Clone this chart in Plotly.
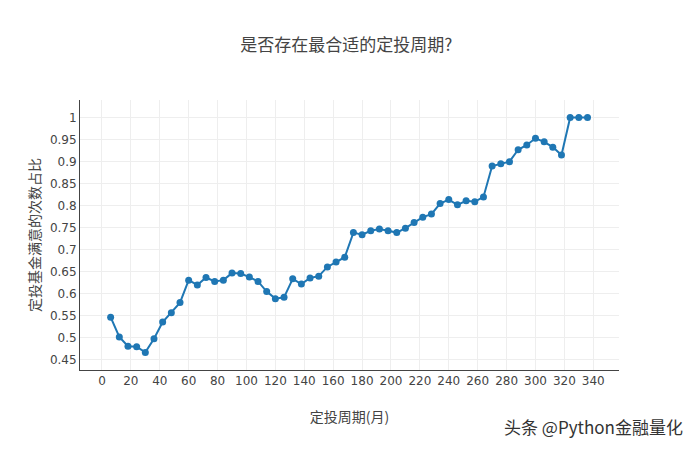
import plotly.graph_objects as go

periods = list(range(6, 337, 6))
ratios = [
    0.547, 0.502, 0.481, 0.480, 0.467, 0.498, 0.536, 0.557, 0.580, 0.631,
    0.620, 0.637, 0.628, 0.631, 0.647, 0.646, 0.638, 0.628, 0.605, 0.589,
    0.592, 0.634, 0.622, 0.636, 0.640, 0.661, 0.672, 0.683, 0.739, 0.734,
    0.743, 0.747, 0.743, 0.739, 0.749, 0.762, 0.774, 0.781, 0.805, 0.814,
    0.802, 0.811, 0.809, 0.820, 0.890, 0.895, 0.900, 0.927, 0.938, 0.953,
    0.945, 0.933, 0.915, 1.0, 1.0, 1.0,
]
x_ticks = list(range(0, 341, 20))
y_ticks = [0.45, 0.5, 0.55, 0.6, 0.65, 0.7, 0.75, 0.8, 0.85, 0.9, 0.95, 1]

title_text = "是否存在最合适的定投周期?"
x_title = "定投周期(月)"
y_title = "定投基金满意的次数占比"
watermark = "头条 @Python金融量化"

font_family = "DejaVu Sans, Noto Sans CJK SC, sans-serif"
cjk = "Noto Sans CJK SC, sans-serif"

fig = go.Figure()
fig.add_trace(go.Scatter(
    x=periods, y=ratios, mode="lines+markers",
    line=dict(color="#1f77b4", width=2),
    marker=dict(color="#1f77b4", size=7),
    showlegend=False,
))

fig.update_layout(
    width=692, height=442,
    margin=dict(l=72, r=81, t=92, b=80),
    paper_bgcolor="white", plot_bgcolor="white",
    font=dict(family=font_family, size=12, color="#444"),
    title=dict(text=title_text, x=0.489, xanchor="center", y=0.916, yanchor="middle",
               font=dict(size=17, color="#444", family=cjk)),
    xaxis=dict(
        range=[-15.2, 357.8], tickvals=x_ticks, ticktext=[str(v) for v in x_ticks],
        showgrid=True, gridcolor="#eee", zeroline=False,
        showline=True, linecolor="#444", linewidth=1,
        title=dict(text=x_title, font=dict(size=14, family=cjk), standoff=24),
        tickfont=dict(size=12),
    ),
    yaxis=dict(
        range=[0.427, 1.040], tickvals=y_ticks, ticktext=[f"{v:g}" for v in y_ticks],
        showgrid=True, gridcolor="#eee", zeroline=False,
        showline=True, linecolor="#444", linewidth=1,
        title=dict(text=y_title, font=dict(size=14, family=cjk), standoff=5),
        tickfont=dict(size=12),
    ),
    annotations=[dict(
        text=watermark, xref="paper", yref="paper", x=1.1225, y=-0.211,
        xanchor="right", yanchor="middle", showarrow=False,
        font=dict(size=17, color="#333", family=cjk),
    )],
)

fig.write_html("out.html")
